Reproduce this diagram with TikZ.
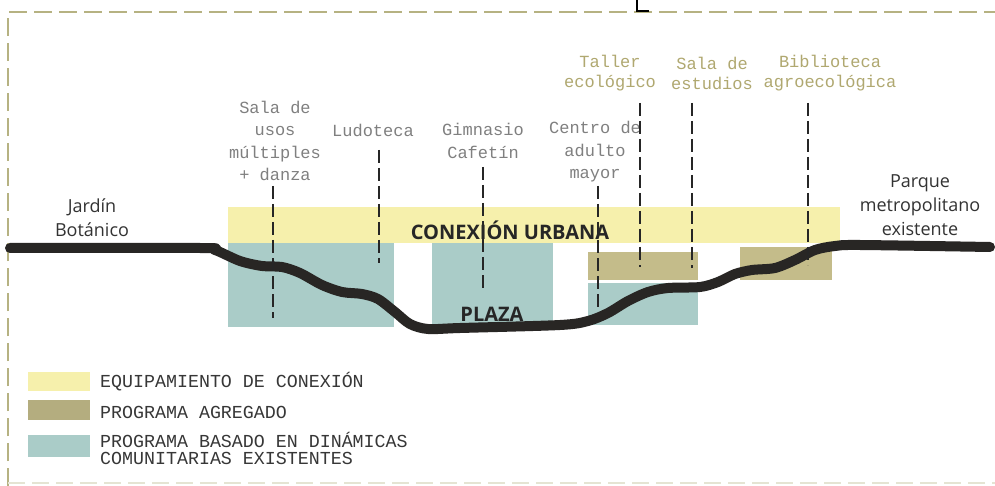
\documentclass[tikz,border=0pt]{standalone}
\usepackage{fontspec}
\newfontfamily\monof{Liberation Mono}
\newfontfamily\sansf{Open Sans}
\definecolor{conyellow}{RGB}{246,240,172}
\definecolor{progolive}{RGB}{196,188,138}
\definecolor{progteal}{RGB}{170,204,200}
\definecolor{terrain}{RGB}{40,38,36}
\definecolor{bordercol}{RGB}{182,178,130}
\definecolor{labgray}{RGB}{128,128,128}
\definecolor{labolive}{RGB}{176,168,112}
\definecolor{legtext}{RGB}{55,55,55}
\tikzset{
  lab/.style={font=\monof\fontsize{17}{22.5}\selectfont, text=labgray, align=center, inner sep=0pt},
  labo/.style={lab, text=labolive, font=\monof\fontsize{17}{20}\selectfont},
  place/.style={font=\sansf\fontsize{18}{24}\selectfont, text=black!80, align=center, inner sep=0pt},
  big/.style={font=\sansf\bfseries\fontsize{20}{24}\selectfont, text=black!85, inner sep=0pt},
  legtxt/.style={font=\monof\fontsize{18.3}{17}\selectfont, text=legtext, align=left, anchor=west, inner sep=0pt},
  vd/.style={draw=black!85, line width=1.7pt, dash pattern=on 13pt off 5pt},
  borderline/.style={draw=bordercol, line width=2.8pt, dash pattern=on 18pt off 7pt},
}
\begin{document}
\begin{tikzpicture}[x=1pt,y=-1pt]
\useasboundingbox (0,0) rectangle (995,486);
\fill[white] (0,0) rectangle (995,486);
% frame
\draw[borderline] (8,486) -- (8,12) -- (995,12);
\draw[draw=bordercol!35, line width=2pt, dash pattern=on 17pt off 7pt] (8,483) -- (995,483);
\draw[black, line width=2.8pt] (637,0) -- (637,11) -- (649,11);
% blocks
\fill[conyellow] (228,207) rectangle (840,243);
\fill[progteal] (228,243) rectangle (394,327);
\fill[progteal] (432,243) rectangle (553,327);
\fill[progteal] (588,283) rectangle (698,325);
\fill[progolive] (588,252) rectangle (698,280);
\fill[progolive] (740,247) rectangle (832,280);
% big labels
\node[big] (conex) at (510,230) {CONEXIÓN URBANA};
\node[big] (plaza) at (492,314) {PLAZA};
% terrain line
\draw[terrain, line width=10pt, line cap=round, line join=round]
  plot[smooth, tension=0.5] coordinates {(10,248) (200,248) (215,250) (240,261) (262,266) (282,267) (300,273) (322,285) (342,292) (362,294) (378,299) (395,312) (410,324) (428,329) (460,328) (560,325) (588,321) (608,313) (628,301) (648,292) (668,288) (700,287) (718,282) (735,274) (752,270) (775,268) (795,260) (815,250) (835,246) (860,245) (990,247)};
% labels
\node[lab] (lsala) at (275,141) {Sala de\\usos\\múltiples\\+ danza};
\node[lab] (lludo) at (373,130) {Ludoteca};
\node[lab] (lgim) at (483,141) {Gimnasio\\Cafetín};
\node[lab] (lcentro) at (595,152) {Centro de\\adulto\\mayor};
\node[labo] (ltaller) at (610,73) {Taller\\ecológico};
\node[labo] (lestud) at (712,73) {Sala de\\estudios};
\node[labo] (lbiblio) at (830,73) {Biblioteca\\agroecológica};
\node[place] (jardin) at (92,218) {Jardín\\Botánico};
\node[place] (parque) at (920,205) {Parque\\metropolitano\\existente};
% dashed leaders
\coordinate (e1) at (273,318);
\coordinate (e2) at (379,263);
\coordinate (e3) at (483,288);
\coordinate (e4) at (598,310);
\coordinate (e5) at (640,267);
\coordinate (e6) at (692,268);
\coordinate (e7) at (808,265);
\draw[vd] (273,186) -- (e1);
\draw[vd] (379,150) -- (e2);
\draw[vd] (483,167) -- (e3);
\draw[vd] (598,186) -- (e4);
\draw[vd] (640,103) -- (e5);
\draw[vd] (692,103) -- (e6);
\draw[vd] (808,103) -- (e7);
% legend
\fill[conyellow] (28,372) rectangle (90,391);
\fill[progolive!92!black] (28,400) rectangle (90,420);
\fill[progteal] (28,435) rectangle (90,457);
\node[legtxt] (leg1) at (100,382) {EQUIPAMIENTO DE CONEXIÓN};
\node[legtxt] (leg2) at (100,412) {PROGRAMA AGREGADO};
\node[legtxt] (leg3) at (100,448) {PROGRAMA BASADO EN DINÁMICAS\\COMUNITARIAS EXISTENTES};
\end{tikzpicture}
\end{document}
